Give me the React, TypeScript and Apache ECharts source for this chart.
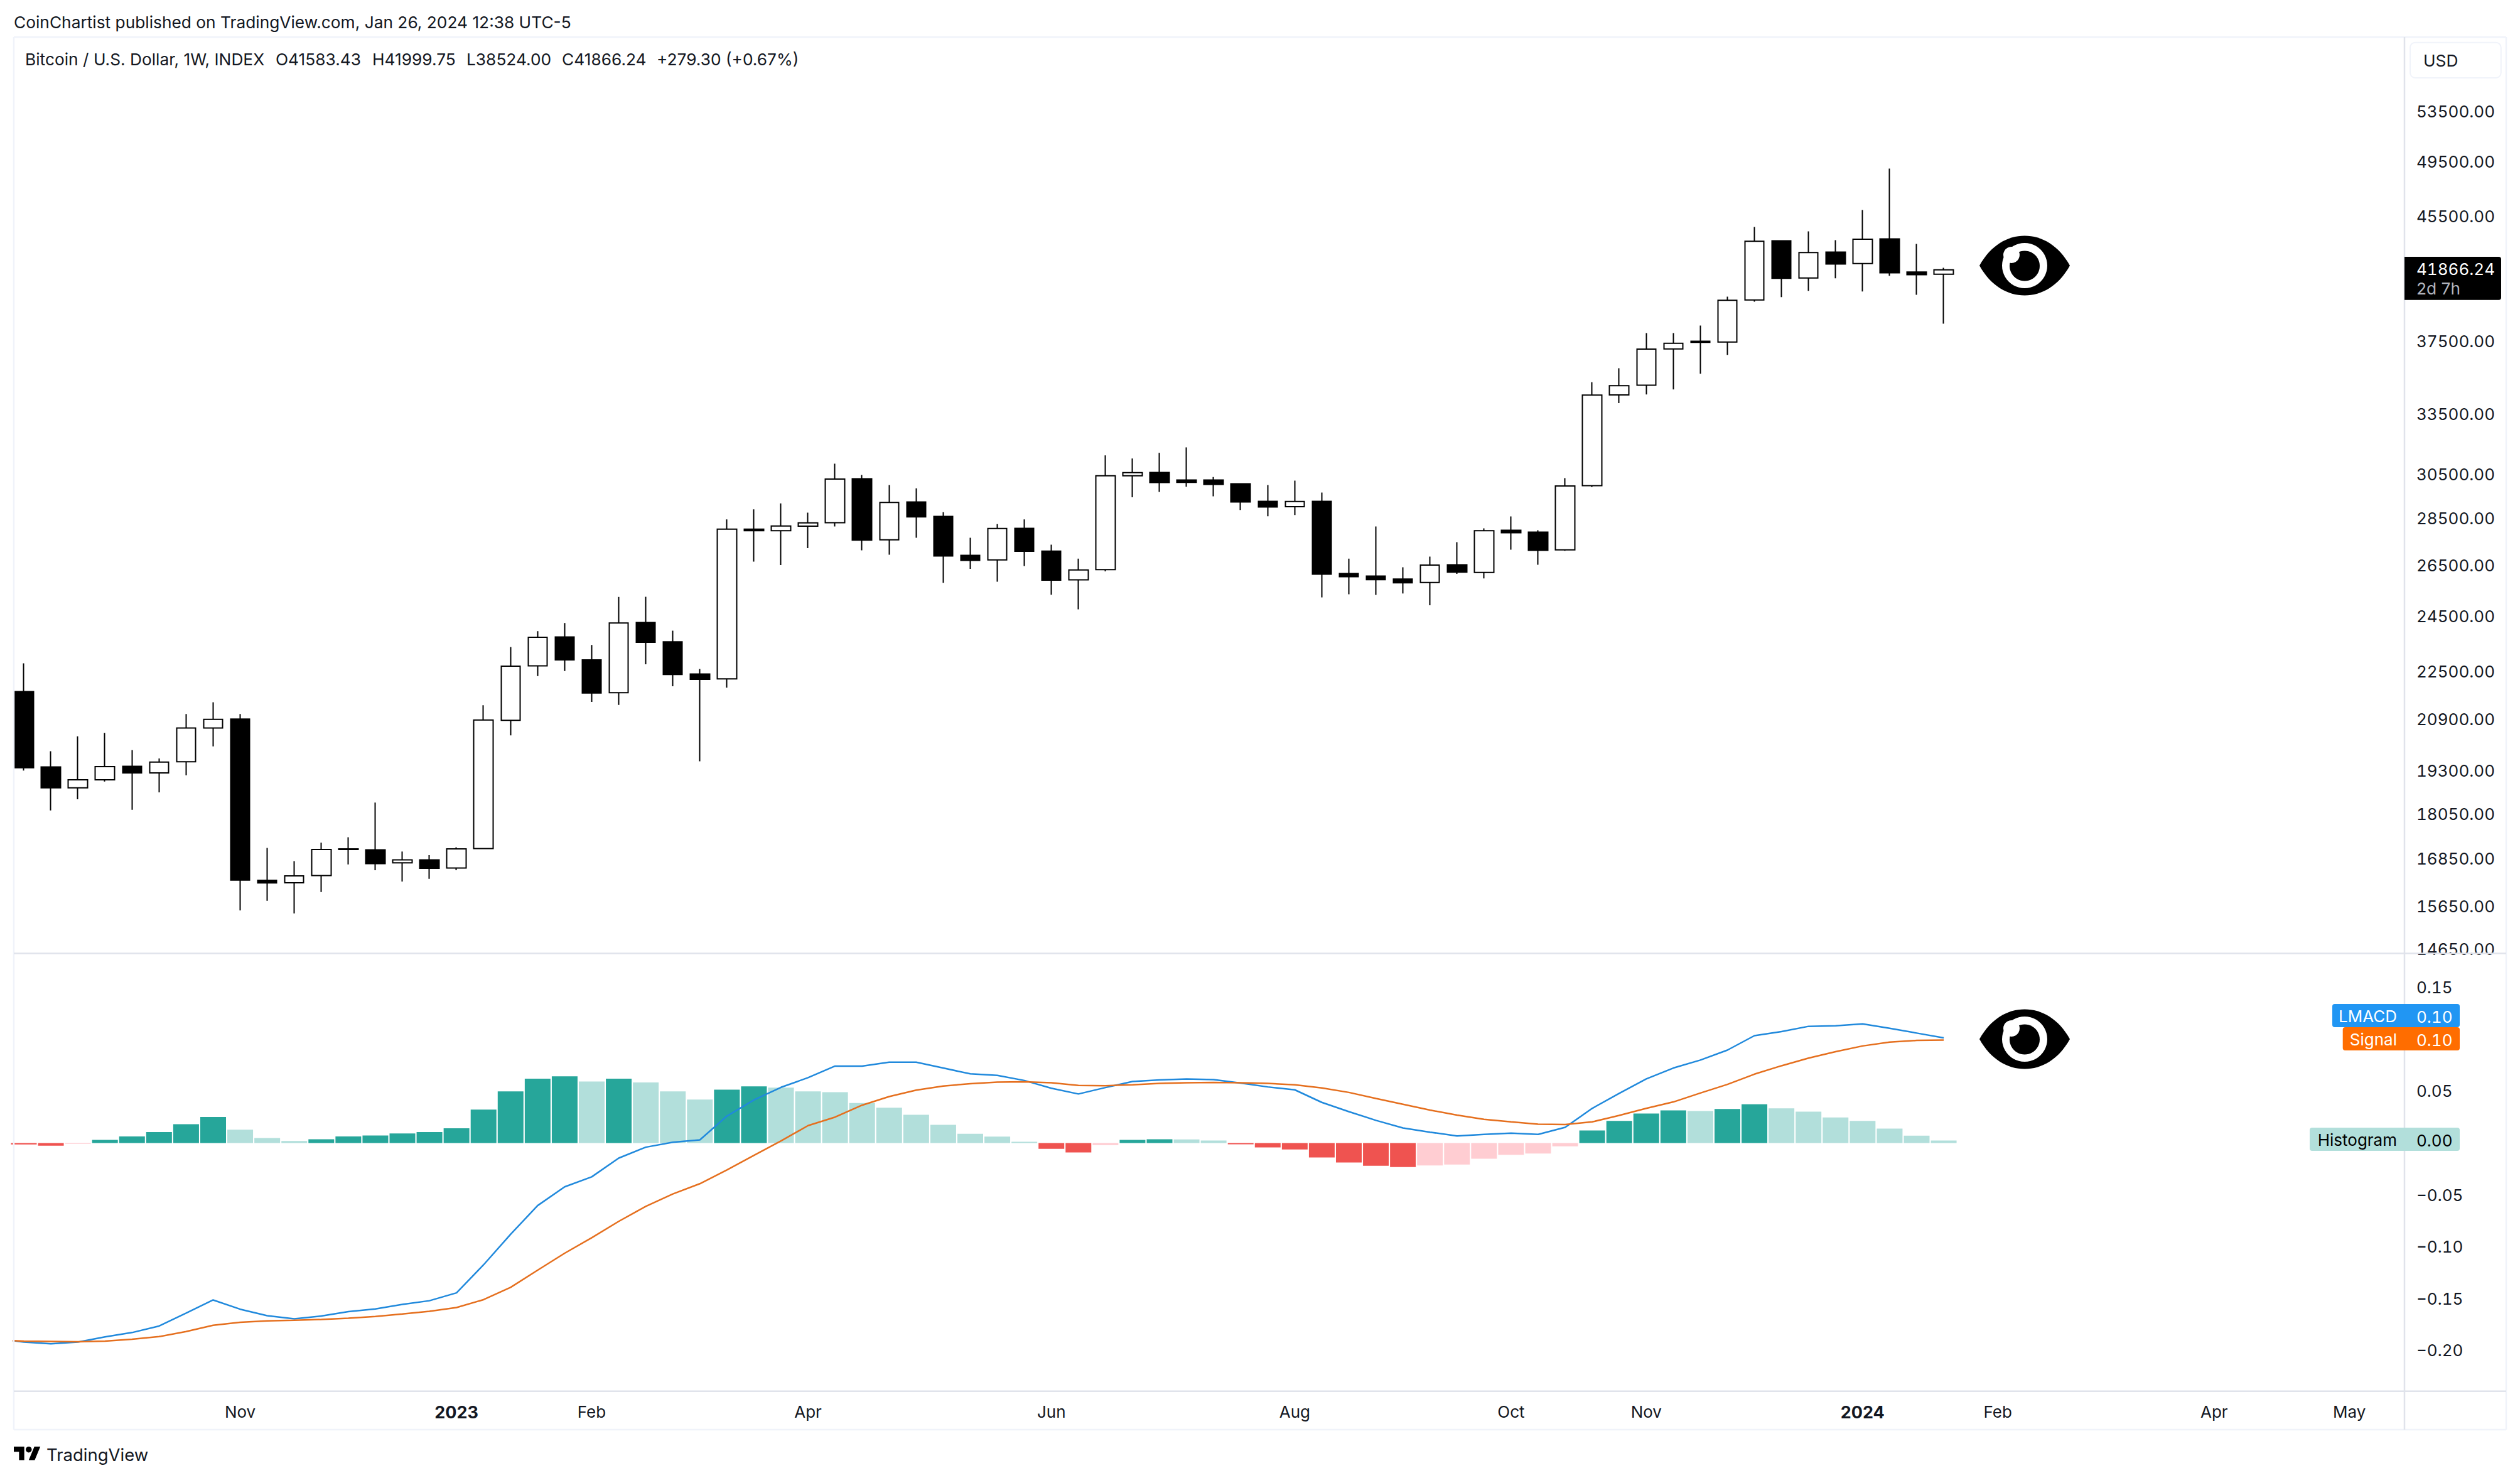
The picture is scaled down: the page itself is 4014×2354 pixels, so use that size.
import React, { useEffect, useRef } from "react";
import * as echarts from "echarts";

// [open, close, low, high] – weekly candles, 2022-09-12 .. 2024-01-22
const ohlc: number[][] = [
  [21808, 19385, 19302, 22782], [19410, 18790, 18146, 19886], [18790, 19027, 18463, 20351], [19027, 19420, 18973, 20457],
  [19429, 19230, 18164, 19921], [19230, 19555, 18659, 19665], [19565, 20611, 19161, 21065], [20611, 20888, 20033, 21449],
  [20898, 16293, 15546, 21065], [16287, 16220, 15780, 17123], [16226, 16399, 15474, 16776], [16407, 17083, 15995, 17267],
  [17083, 17100, 16691, 17410], [17075, 16714, 16544, 18368], [16733, 16810, 16255, 17029], [16810, 16591, 16325, 16933],
  [16600, 17100, 16544, 17140], [17108, 20870, 17100, 21352], [20860, 22680, 20381, 23361], [22691, 23715, 22335, 23944],
  [23726, 22900, 22510, 24247], [22900, 21760, 21459, 23439], [21770, 24247, 21359, 25247], [24267, 23533, 22746, 25252],
  [23549, 22394, 21985, 23962], [22409, 22223, 19580, 22585], [22238, 28036, 21942, 28459], [28036, 27970, 26664, 28908],
  [27970, 28173, 26517, 29174], [28162, 28309, 27221, 28759], [28317, 30289, 28150, 31021], [30307, 27566, 27132, 30486],
  [27577, 29219, 26949, 30017], [29239, 28574, 27665, 29863], [28594, 26897, 25803, 28779], [26923, 26715, 26363, 27665],
  [26733, 28062, 25845, 28254], [28070, 27090, 26483, 28459], [27100, 25909, 25332, 27370], [25919, 26322, 24763, 26785],
  [26330, 30448, 26263, 31425], [30448, 30595, 29454, 31272], [30604, 30132, 29696, 31548], [30250, 30141, 29937, 31818],
  [30250, 30040, 29496, 30388], [30073, 29239, 28880, 30094], [29267, 29012, 28600, 30017], [29022, 29258, 28655, 30220],
  [29267, 26151, 25227, 29667], [26176, 26050, 25349, 26785], [26075, 25925, 25325, 28150], [25950, 25800, 25380, 26432],
  [25813, 26517, 24920, 26871], [26535, 26229, 26160, 27477], [26221, 27970, 25980, 28070], [27989, 27880, 27155, 28594],
  [27908, 27132, 26535, 27989], [27150, 29967, 27114, 30340], [29987, 34495, 29920, 35187], [34505, 35001, 34065, 35956],
  [35025, 37032, 34530, 37963], [37046, 37371, 34797, 37963], [37428, 37490, 35654, 38411], [37443, 39940, 36708, 40162],
  [39958, 43758, 39854, 44734], [43787, 41321, 40135, 43787], [41338, 43002, 40528, 44431], [43031, 42244, 41321, 43835],
  [42273, 43890, 40488, 45923], [43918, 41678, 41485, 48962], [41720, 41557, 40281, 43580], [41583.43, 41866.24, 38524, 41999.75],
];

const macdLine = [
  -0.1919, -0.1935, -0.1919, -0.1869, -0.1827, -0.1764, -0.1639, -0.1513, -0.1602, -0.1665, -0.1695, -0.1668,
  -0.1625, -0.1599, -0.1556, -0.152, -0.1444, -0.1174, -0.088, -0.0603, -0.0422, -0.0326, -0.0145, -0.004,
  0.0007, 0.003, 0.026, 0.0415, 0.0537, 0.063, 0.0742, 0.0742, 0.0779, 0.0779, 0.0723, 0.0667,
  0.0652, 0.0603, 0.0528, 0.0473, 0.0535, 0.0593, 0.0609, 0.0618, 0.0612, 0.0578, 0.0541, 0.0513,
  0.0392, 0.0303, 0.0219, 0.0145, 0.0105, 0.0068, 0.0083, 0.0096, 0.0083, 0.0151, 0.0334, 0.0479,
  0.0618, 0.0723, 0.08, 0.0896, 0.1035, 0.1075, 0.1125, 0.1131, 0.1149, 0.1106, 0.106, 0.1014,
];

const signalLine = [
  -0.1909, -0.1912, -0.1916, -0.1909, -0.1892, -0.1866, -0.1817, -0.1757, -0.1728, -0.1714, -0.1708, -0.1701,
  -0.1688, -0.1672, -0.1648, -0.1622, -0.1586, -0.151, -0.1391, -0.1226, -0.1062, -0.0913, -0.0755, -0.061,
  -0.0491, -0.0392, -0.026, -0.0119, 0.002, 0.0168, 0.025, 0.0365, 0.0448, 0.051, 0.055, 0.0572,
  0.0587, 0.059, 0.0581, 0.0556, 0.0553, 0.0562, 0.0575, 0.0581, 0.0584, 0.0581, 0.0575, 0.0562,
  0.0531, 0.0488, 0.043, 0.0374, 0.0318, 0.0269, 0.0229, 0.0204, 0.0182, 0.0179, 0.0204, 0.0266,
  0.0334, 0.0396, 0.0482, 0.0565, 0.0664, 0.0745, 0.0819, 0.0881, 0.0936, 0.0973, 0.0989, 0.0992,
];

// the week before the first candle, which the lines come in from past the pane's left edge
const macdBefore = -0.1887;
const signalBefore = -0.1898;

const histogram = [
  -0.0013, -0.0026, -0.0007, 0.003, 0.0063, 0.0106, 0.0181, 0.0251, 0.0129, 0.0049, 0.002, 0.0036,
  0.0063, 0.0073, 0.0092, 0.0106, 0.0142, 0.0323, 0.0498, 0.062, 0.0643, 0.0593, 0.062, 0.0584,
  0.0498, 0.0419, 0.0514, 0.0547, 0.0534, 0.0498, 0.0491, 0.0386, 0.034, 0.0272, 0.0176, 0.009,
  0.0062, 0.0012, -0.0056, -0.009, -0.0019, 0.0031, 0.0037, 0.0035, 0.0025, -0.0012, -0.0043, -0.0062,
  -0.0139, -0.0188, -0.0219, -0.0232, -0.0216, -0.0207, -0.0151, -0.0114, -0.0102, -0.0031, 0.0121, 0.0213,
  0.0284, 0.0315, 0.0309, 0.0328, 0.0374, 0.0334, 0.0303, 0.0247, 0.0213, 0.0139, 0.0071, 0.0025,
];

const priceTicks = [53500, 49500, 45500, 37500, 33500, 30500, 28500, 26500, 24500, 22500, 20900, 19300, 18050, 16850, 15650, 14650];
const macdTicks = [0.15, 0.05, -0.05, -0.1, -0.15, -0.2];
const timeTickIndex = [8, 16, 21, 29, 38, 47, 55, 60, 68, 73, 81, 86];
const timeTickLabels = ["Nov", "2023", "Feb", "Apr", "Jun", "Aug", "Oct", "Nov", "2024", "Feb", "Apr", "May"];
const boldTimeLabels = ["2023", "2024"];

const headerText = "CoinChartist published on TradingView.com, Jan 26, 2024 12:38 UTC-5";
const legendName = "Bitcoin / U.S. Dollar, 1W, INDEX";
const legendOHLC = ["O41583.43", "H41999.75", "L38524.00", "C41866.24", "+279.30 (+0.67%)"];
const legendX = [439, 593, 743, 895, 1046];

const FONT = "Inter";
const INK = "#131722";
const LINE = "#E0E3EB";
const FRAME = "#F0F3FA";
const PANE_L = 22;
const AXIS_X = 3830;
const RIGHT = 3992;
const TOP = 59;
const SPLIT = 1518.5;
const MACD_B = 2215.7;
const BOTTOM = 2277;
// axis labels and tag values use this size; the stylesheet below gives them tabular digits
const NUM_SIZE = 26.01;

echarts.graphic.registerShape(
  "eyeAlmond",
  echarts.graphic.extendPath("M0 47.5C18 15 45 0 72 0C99 0 126 15 144 47.5C126 80 99 95 72 95C45 95 18 80 0 47.5Z", {})
);
echarts.graphic.registerShape(
  "tvLogo",
  echarts.graphic.extendPath("M14 22H7V11H0V4h14v18zM28 22h-8l7.5-18h8L28 22zM24 8a4 4 0 1 1-8 0a4 4 0 1 1 8 0z", {})
);

const txt = (x: number, y: number, text: string, extra: any = {}) => ({
  type: "text",
  x,
  y,
  z: 100,
  style: { text, fill: INK, font: `26.3px ${FONT}`, textVerticalAlign: "middle", verticalAlign: "middle", ...extra },
});

const hline = (x1: number, x2: number, y: number, stroke = LINE, w = 2) => ({
  type: "line",
  z: 90,
  shape: { x1, y1: y, x2, y2: y },
  style: { stroke, lineWidth: w },
});
const vline = (x: number, y1: number, y2: number, stroke = LINE, w = 2.5) => ({
  type: "line",
  z: 90,
  shape: { x1: x, y1, x2: x, y2 },
  style: { stroke, lineWidth: w },
});

const eye = (cx: number, cy: number) => [
  { type: "eyeAlmond", x: cx - 72, y: cy - 47.5, z: 80, style: { fill: "#000" } },
  { type: "circle", z: 81, shape: { cx, cy, r: 36 }, style: { fill: "#fff" } },
  { type: "circle", z: 82, shape: { cx, cy: cy + 0.5, r: 24 }, style: { fill: "#000" } },
  { type: "circle", z: 83, shape: { cx: cx - 21, cy: cy - 17, r: 13 }, style: { fill: "#fff" } },
];

const tag = (x1: number, y1: number, y2: number, fill: string, name: string, value: string, textFill: string) => {
  const cy = (y1 + y2) / 2;
  return [
    { type: "rect", z: 95, shape: { x: x1, y: y1, width: 3918 - x1, height: y2 - y1, r: 4 }, style: { fill } },
    vline(3829, y1, y2, "#fff", 1.5),
    txt(3818, cy + 0.5, name, { fill: textFill, align: "right", textAlign: "right", font: `26px ${FONT}` }),
    txt(3849, cy + 1.5, value, { fill: textFill, font: `${NUM_SIZE}px ${FONT}` }),
  ];
};

export default function App() {
  const ref = useRef<HTMLDivElement>(null);
  useEffect(() => {
    document.body.style.margin = "0";
    const chart = echarts.init(ref.current!, undefined, { renderer: "svg" });
    const option: any = {
      animation: false,
      backgroundColor: "#fff",
      grid: [
        { left: PANE_L, top: TOP, width: AXIS_X - PANE_L, height: SPLIT - TOP },
        { left: PANE_L, top: SPLIT, width: AXIS_X - PANE_L, height: MACD_B - SPLIT },
      ],
      xAxis: [
        {
          type: "value", gridIndex: 0, min: -0.3715, max: 88.04, show: true,
          axisLine: { show: false }, axisTick: { show: false }, axisLabel: { show: false }, splitLine: { show: false },
        },
        {
          type: "value", gridIndex: 1, min: -0.3715, max: 88.04,
          axisLine: { show: false }, axisTick: { show: false }, splitLine: { show: false },
          axisLabel: {
            customValues: timeTickIndex,
            margin: 20,
            fontFamily: FONT,
            fontSize: 26,
            color: INK,
            formatter: (v: number) => {
              const s = timeTickLabels[timeTickIndex.indexOf(Math.round(v))] ?? "";
              return boldTimeLabels.includes(s) ? `{b|${s}}` : s;
            },
            rich: { b: { fontFamily: FONT, fontSize: 27, fontWeight: 700, color: INK } },
          },
        },
      ],
      yAxis: [
        {
          type: "log", logBase: 10, gridIndex: 0, position: "right", min: 14546, max: 60007,
          axisLine: { show: false }, axisTick: { show: false }, splitLine: { show: false },
          axisLabel: {
            customValues: priceTicks,
            margin: 19,
            fontFamily: FONT,
            fontSize: NUM_SIZE,
            color: INK,
            hideOverlap: false,
            formatter: (v: number) => Number(v).toFixed(2),
          },
        },
        {
          type: "value", gridIndex: 1, position: "right", min: -0.2392, max: 0.1828,
          axisLine: { show: false }, axisTick: { show: false }, splitLine: { show: false },
          axisLabel: {
            customValues: macdTicks,
            margin: 19,
            fontFamily: FONT,
            fontSize: NUM_SIZE,
            color: INK,
            formatter: (v: number) => (v < 0 ? "\u2212" : "") + Math.abs(v).toFixed(2),
          },
        },
      ],
      series: [
        {
          type: "candlestick",
          name: "BTCUSD",
          xAxisIndex: 0,
          yAxisIndex: 0,
          barWidth: 31,
          clip: true,
          encode: { x: 0, y: [1, 2, 3, 4] },
          itemStyle: { color: "#ffffff", color0: "#000000", borderColor: "#000000", borderColor0: "#000000", borderWidth: 2 },
          data: ohlc.map((d, i) => [i, d[0], d[1], d[2], d[3]]),
        },
        {
          type: "bar",
          name: "Histogram",
          xAxisIndex: 1,
          yAxisIndex: 1,
          barWidth: 41,
          data: histogram.map((v, i) => {
            const prev = i > 0 ? histogram[i - 1] : v + 1;
            const color = v >= 0 ? (v > prev ? "#26A69A" : "#B2DFDB") : v < prev ? "#EF5350" : "#FFCDD2";
            return { value: [i, v], itemStyle: { color } };
          }),
        },
        {
          type: "line",
          name: "LMACD",
          xAxisIndex: 1,
          yAxisIndex: 1,
          showSymbol: false,
          symbol: "none",
          clip: true,
          lineStyle: { color: "#2089DC", width: 2.5 },
          data: [[-1, macdBefore], ...macdLine.map((v, i) => [i, v])],
        },
        {
          type: "line",
          name: "Signal",
          xAxisIndex: 1,
          yAxisIndex: 1,
          showSymbol: false,
          symbol: "none",
          clip: true,
          lineStyle: { color: "#E56F1E", width: 2.5 },
          data: [[-1, signalBefore], ...signalLine.map((v, i) => [i, v])],
        },
      ],
      graphic: [
        txt(22, 35.5, headerText),
        txt(40, 94.5, legendName),
        ...legendOHLC.map((s, i) => txt(legendX[i], 94.5, s)),
        hline(PANE_L, RIGHT, TOP, FRAME, 2.5),
        hline(PANE_L, RIGHT, BOTTOM, FRAME, 2.5),
        vline(PANE_L, TOP, BOTTOM, FRAME, 2.5),
        vline(RIGHT, TOP, BOTTOM, FRAME, 2.5),
        hline(PANE_L, RIGHT, SPLIT, LINE, 2.5),
        hline(PANE_L, RIGHT, MACD_B, LINE, 2.5),
        vline(AXIS_X, TOP, BOTTOM, LINE, 2.5),
        {
          type: "rect", z: 95,
          shape: { x: 3839, y: 67.7, width: 144.7, height: 56.3, r: 8 },
          style: { fill: "#fff", stroke: FRAME, lineWidth: 2 },
        },
        txt(3860, 96.5, "USD"),
        {
          type: "rect", z: 95,
          shape: { x: 3830, y: 409, width: 154, height: 68.7, r: [0, 4, 4, 0] },
          style: { fill: "#000" },
        },
        txt(3849, 428, "41866.24", { fill: "#fff", font: `${NUM_SIZE}px ${FONT}` }),
        txt(3849, 459, "2d 7h", { fill: "#B2B5BE" }),
        ...eye(3225, 423),
        ...eye(3225, 1655),
        ...tag(3715, 1599, 1636, "#2196F3", "LMACD", "0.10", "#fff"),
        ...tag(3731.7, 1636, 1673, "#FF6D00", "Signal", "0.10", "#fff"),
        ...tag(3679, 1796, 1833, "#B2DFDB", "Histogram", "0.00", "#000"),
        { type: "tvLogo", x: 22, y: 2299.2, scaleX: 1.19, scaleY: 1.19, z: 90, style: { fill: "#000" } },
        txt(74, 2317, "TradingView", { font: `27.5px ${FONT}` }),
      ],
    };
    chart.setOption(option);
    return () => chart.dispose();
  }, []);
  return (
    <>
      <style>{`svg text[style*="${NUM_SIZE}px"] { font-feature-settings: "tnum" !important; }`}</style>
      <div ref={ref} style={{ position: "absolute", left: 0, top: 0, width: 4014, height: 2354, background: "#fff" }} />
    </>
  );
}
